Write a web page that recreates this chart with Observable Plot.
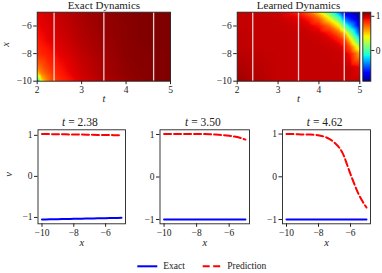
<!DOCTYPE html>
<html>
<head>
<meta charset="utf-8">
<script src="https://cdn.jsdelivr.net/npm/d3@7"></script>
<script src="https://cdn.jsdelivr.net/npm/@observablehq/plot@0.6"></script>
<style>
  html, body { margin: 0; padding: 0; background: white; }
  #fig { position: relative; width: 382px; height: 273px; overflow: hidden; font-family: "Liberation Serif", serif; }
  #fig > svg, #fig > figure { position: absolute; margin: 0; }
  #fig svg text { font-family: "Liberation Serif", serif; }
</style>
</head>
<body>
<div id="fig"></div>
<script>
// ---------- data ----------
const snapshotTimes = [2.38, 3.50, 4.62];
const snapshotLabels = ["2.38", "3.50", "4.62"];
const heatTicksT = [2, 3, 4, 5];
const heatTicksX = [-10, -8, -6];
const lineTicksX = [-10, -8, -6];
const lineTicksV = [-1, 0, 1];
const colorDomain = [-0.9, 1.12];
const colorbarTicks = [0, 1];

// Exact dynamics field: rows = exactT, columns = exactX
const exactT = [2, 2.1, 2.2, 2.35, 2.5, 3, 3.5, 4, 4.5, 5];
const exactX = [-10, -9.75, -9.5, -9, -8, -7, -6, -5];
const exactU = [
  [-0.6, 0.1, 0.43, 0.67, 0.84, 0.89, 0.92, 0.95],
  [0.4, 0.55, 0.65, 0.74, 0.86, 0.91, 0.94, 0.96],
  [0.62, 0.68, 0.73, 0.8, 0.88, 0.93, 0.95, 0.97],
  [0.78, 0.8, 0.82, 0.86, 0.91, 0.95, 0.97, 0.98],
  [0.85, 0.86, 0.88, 0.9, 0.94, 0.97, 0.99, 1.0],
  [0.96, 0.97, 0.98, 0.99, 1.01, 1.03, 1.04, 1.05],
  [1.04, 1.04, 1.05, 1.05, 1.06, 1.07, 1.08, 1.08],
  [1.08, 1.08, 1.09, 1.09, 1.1, 1.1, 1.1, 1.11],
  [1.11, 1.11, 1.11, 1.11, 1.11, 1.12, 1.12, 1.12],
  [1.12, 1.12, 1.12, 1.12, 1.12, 1.12, 1.12, 1.12]
];

// Learned dynamics field: rows = learnedT, columns = learnedX
const learnedT = [2, 2.5, 3, 3.5, 3.75, 4, 4.25, 4.5, 4.62, 4.75, 5];
const learnedX = [-10, -9, -8, -7.5, -7, -6.5, -6, -5.5, -5];
const learnedU = [
  [1.07, 1.04, 1.02, 1.01, 1.01, 1.01, 1.0, 1.0, 1.0],
  [1.03, 1.02, 1.01, 1.0, 1.0, 1.0, 1.0, 1.0, 1.0],
  [1.0, 1.0, 1.0, 1.0, 1.0, 1.0, 1.0, 1.0, 0.98],
  [1.0, 1.0, 1.0, 1.0, 1.0, 1.0, 0.99, 0.96, 0.88],
  [1.0, 1.0, 1.0, 1.0, 1.0, 0.99, 0.96, 0.89, 0.72],
  [1.0, 1.0, 1.0, 1.0, 0.99, 0.965, 0.9, 0.74, 0.46],
  [1.0, 1.0, 1.0, 0.99, 0.96, 0.89, 0.72, 0.43, 0.04],
  [1.0, 1.0, 0.99, 0.96, 0.88, 0.7, 0.4, 0.0, -0.4],
  [1.0, 1.0, 0.97, 0.92, 0.8, 0.56, 0.06, -0.4, -0.72],
  [1.0, 0.995, 0.91, 0.77, 0.52, 0.16, -0.24, -0.56, -0.73],
  [1.0, 0.93, 0.58, 0.24, -0.16, -0.5, -0.71, -0.81, -0.86]
];

// Snapshot profiles
const lineX = [-10, -9.5, -9, -8.5, -8, -7.5, -7, -6.5, -6, -5.5, -5];
const exact238 = [-1.05, -1.046, -1.042, -1.038, -1.034, -1.03, -1.026, -1.022, -1.018, -1.014, -1.01];
const pred238  = [1.03, 1.03, 1.025, 1.025, 1.02, 1.02, 1.015, 1.01, 1.01, 1.005, 1.0];
const exact350 = [-1, -1, -1, -1, -1, -1, -1, -1, -1, -1, -1];
const pred350  = [1.01, 1.01, 1.01, 1.01, 1.01, 1.01, 1.0, 0.99, 0.97, 0.94, 0.88];
const exact462 = [-1, -1, -1, -1, -1, -1, -1, -1, -1, -1, -1];
const pred462  = [1.0, 1.0, 0.99, 0.99, 0.97, 0.92, 0.8, 0.56, 0.06, -0.4, -0.72];
const vDomains = [[-1.155, 1.135], [-1.1, 1.11], [-1.1, 1.1]];

// ---------- helpers ----------
function jet(t) {
  t = Math.max(0, Math.min(1, t));
  const seg = pts => {
    for (let i = 1; i < pts.length; i++) {
      if (t <= pts[i][0]) {
        const [a0, b0] = pts[i - 1], [a1, b1] = pts[i];
        return b0 + (b1 - b0) * (t - a0) / (a1 - a0);
      }
    }
    return pts[pts.length - 1][1];
  };
  const r = seg([[0, 0], [0.35, 0], [0.66, 1], [0.89, 1], [1, 0.5]]);
  const g = seg([[0, 0], [0.125, 0], [0.375, 1], [0.64, 1], [0.91, 0], [1, 0]]);
  const b = seg([[0, 0.5], [0.11, 1], [0.34, 1], [0.65, 0], [1, 0]]);
  return `rgb(${Math.round(r * 255)},${Math.round(g * 255)},${Math.round(b * 255)})`;
}
const colorOpts = {type: "linear", domain: colorDomain, interpolate: jet, clamp: true};
const fmt = d => d < 0 ? "\u2212" + Math.abs(d) : String(d);
const FONT = "Liberation Serif, serif";
const baseStyle = {fontFamily: FONT, fontSize: "9.5px", color: "#222", background: "transparent", overflow: "visible"};
const txt = {text: d => d, fontFamily: FONT, fill: "#222"};

function grid(T, X, U) {
  const out = [];
  T.forEach((t, i) => X.forEach((x, j) => out.push({t, x, u: U[i][j]})));
  return out;
}
function place(svg, left, top) {
  svg.style.left = left + "px";
  svg.style.top = top + "px";
  document.getElementById("fig").appendChild(svg);
}

// ---------- heatmaps ----------
function heatmap(data, title, width, ml, mr, showYLabel) {
  const marks = [
    Plot.raster(data, {x: "t", y: "x", fill: "u", interpolate: "barycentric", x1: 2, x2: 5, y1: -10, y2: -5}),
    Plot.ruleX(snapshotTimes, {stroke: "white", strokeOpacity: 0.8, strokeWidth: 1.3}),
    Plot.frame({stroke: "#222", strokeWidth: 0.9}),
    Plot.axisX({ticks: heatTicksT, tickSize: 3.5, tickPadding: 2, fontSize: 9.5, fontFamily: FONT, tickFormat: fmt, label: null}),
    Plot.axisY({ticks: heatTicksX, tickSize: 3.5, tickPadding: 2, fontSize: 9.5, fontFamily: FONT, tickFormat: fmt, label: null}),
    Plot.text([title], {...txt, frameAnchor: "top", dy: -3.4, lineAnchor: "bottom", fontSize: 11}),
    Plot.text(["t"], {...txt, frameAnchor: "bottom", dy: 20.7, lineAnchor: "bottom", fontSize: 10.5, fontStyle: "italic"})
  ];
  if (showYLabel) marks.push(Plot.text(["x"], {...txt, frameAnchor: "left", dx: -31.7, rotate: -90, fontSize: 10.5, fontStyle: "italic"}));
  return Plot.plot({
    width, height: 105,
    marginLeft: ml, marginRight: mr, marginTop: 11.7, marginBottom: 24.3,
    x: {domain: [2, 5]}, y: {domain: [-10, -5]},
    color: colorOpts,
    style: baseStyle,
    marks
  });
}
place(heatmap(grid(exactT, exactX, exactU), "Exact Dynamics", 190, 36.7, 20, true), 0, 0);
place(heatmap(grid(learnedT, learnedX, learnedU), "Learned Dynamics", 172, 46.7, 2.7, false), 190, 0);

// colorbar
place(Plot.plot({
  width: 27, height: 105,
  marginLeft: 7.3, marginRight: 11.7, marginTop: 11.7, marginBottom: 24.3,
  x: {domain: [0, 1], axis: null}, y: {domain: colorDomain},
  color: colorOpts,
  style: baseStyle,
  marks: [
    Plot.raster({fill: (x, y) => y, x1: 0, x2: 1, y1: colorDomain[0], y2: colorDomain[1]}),
    Plot.frame({stroke: "#222", strokeWidth: 0.9}),
    Plot.axisY({anchor: "right", ticks: colorbarTicks, tickSize: 3, tickPadding: 2, fontSize: 9.5, fontFamily: FONT, tickFormat: fmt, label: null})
  ]
}), 355, 0);

// ---------- snapshot line panels ----------
const exactSeries = [exact238, exact350, exact462];
const predSeries = [pred238, pred350, pred462];
const panelBoxes = [
  {left: 0, width: 130, ml: 37.5, mr: 5},
  {left: 130, width: 125, ml: 29.5, mr: 6},
  {left: 255, width: 127, ml: 27, mr: 12}
];
snapshotTimes.forEach((t, k) => {
  const ex = lineX.map((x, i) => ({x, v: exactSeries[k][i]}));
  const pr = lineX.map((x, i) => ({x, v: predSeries[k][i]}));
  const box = panelBoxes[k];
  const marks = [
    Plot.frame({stroke: "#222", strokeWidth: 0.9}),
    Plot.line(ex, {x: "x", y: "v", stroke: "#0000ff", strokeWidth: 2, curve: "monotone-x"}),
    Plot.line(pr, {x: "x", y: "v", stroke: "#ff0000", strokeWidth: 2, strokeDasharray: "7,3", curve: "monotone-x"}),
    Plot.axisX({ticks: lineTicksX, tickSize: 3.5, tickPadding: 2, fontSize: 9.5, fontFamily: FONT, tickFormat: fmt, label: null}),
    Plot.axisY({ticks: lineTicksV, tickSize: 3.5, tickPadding: 2, fontSize: 9.5, fontFamily: FONT, tickFormat: fmt, label: null}),
    Plot.text(["t"], {...txt, frameAnchor: "top", dx: -16.5, dy: -4.3, textAnchor: "end", lineAnchor: "bottom", fontSize: 11.5, fontStyle: "italic"}),
    Plot.text(["= " + snapshotLabels[k]], {...txt, frameAnchor: "top", dx: -13.5, dy: -4.3, textAnchor: "start", lineAnchor: "bottom", fontSize: 11.5}),
    Plot.text(["x"], {...txt, frameAnchor: "bottom", dy: 22.4, lineAnchor: "bottom", fontSize: 10.5, fontStyle: "italic"})
  ];
  if (k === 0) marks.push(Plot.text(["v"], {...txt, frameAnchor: "left", dx: -29.3, rotate: -90, fontSize: 10.5, fontStyle: "italic"}));
  place(Plot.plot({
    width: box.width, height: 150,
    marginLeft: box.ml, marginRight: box.mr, marginTop: 24.3, marginBottom: 31.7,
    x: {domain: [-10.25, -4.75]}, y: {domain: vDomains[k]},
    style: baseStyle,
    marks
  }), box.left, 105);
});

// ---------- legend ----------
const legendItems = [
  {name: "Exact", color: "#0000ff", dash: null, x0: 137.3, x1: 157.3, tx: 163.3},
  {name: "Prediction", color: "#ff0000", dash: "7,3.5", x0: 202.7, x1: 220.7, tx: 227.3}
];
const leg = d3.create("svg").attr("width", 382).attr("height", 16)
  .style("font-family", FONT).style("font-size", "9.5px");
legendItems.forEach(it => {
  leg.append("line").attr("x1", it.x0).attr("x2", it.x1).attr("y1", 8.3).attr("y2", 8.3)
    .attr("stroke", it.color).attr("stroke-width", 2).attr("stroke-dasharray", it.dash);
  leg.append("text").attr("x", it.tx).attr("y", 11.3).attr("fill", "#222").text(it.name);
});
place(leg.node(), 0, 258);
</script>
</body>
</html>
